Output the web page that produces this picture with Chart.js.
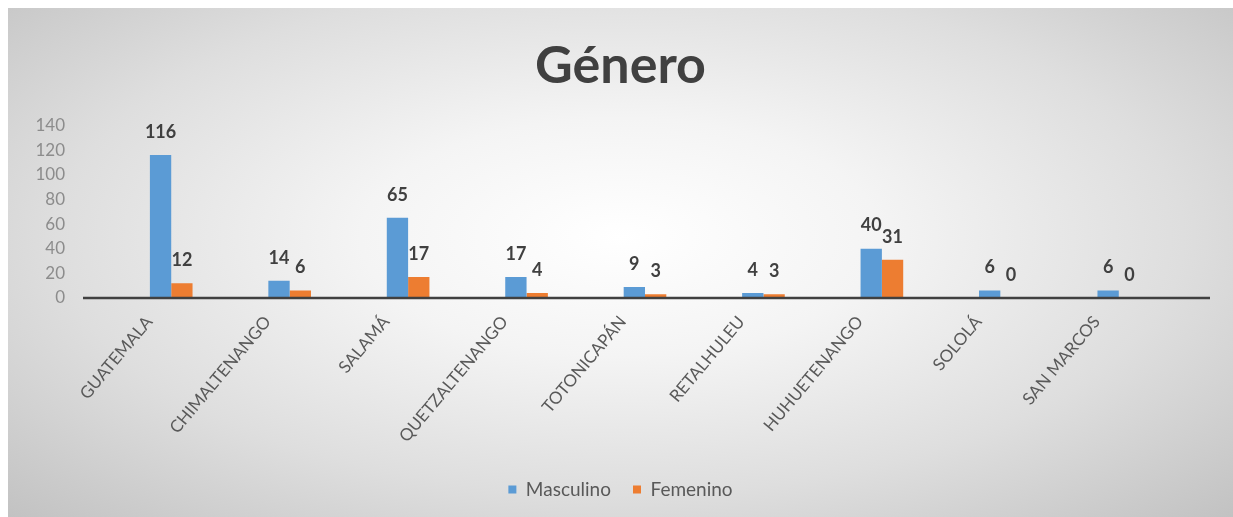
<!DOCTYPE html>
<html>
<head>
<meta charset="utf-8">
<script src="https://cdn.jsdelivr.net/npm/chart.js@4/dist/chart.umd.min.js"></script>
<style>
  html, body { margin: 0; padding: 0; background: #fff; }
  #box {
    position: absolute; left: 8px; top: 8px; width: 1225px; height: 509px;
    background: radial-gradient(ellipse at 50% 45%, #ffffff 0%, #f4f4f4 30%, #dedede 65%, #c2c2c2 100%);
  }
</style>
</head>
<body>
<div id="box"><canvas id="generoChart"></canvas></div>
<script>
const departamentos = ["GUATEMALA", "CHIMALTENANGO", "SALAMÁ", "QUETZALTENANGO", "TOTONICAPÁN", "RETALHULEU", "HUHUETENANGO", "SOLOLÁ", "SAN MARCOS"];
const masculino = [116, 14, 65, 17, 9, 4, 40, 6, 6];
const femenino = [12, 6, 17, 4, 3, 3, 31, 0, 0];

const FONT = "Lato, 'Open Sans', sans-serif";

// etiquetas de valor encima de cada barra
const valueLabels = {
  id: "valueLabels",
  afterDatasetsDraw(chart) {
    const ctx = chart.ctx;
    ctx.save();
    ctx.font = "bold 18px " + FONT;
    ctx.fillStyle = "#404040";
    ctx.textAlign = "center";
    ctx.textBaseline = "middle";
    chart.data.datasets.forEach((ds, i) => {
      chart.getDatasetMeta(i).data.forEach((bar, j) => {
        ctx.fillText(ds.data[j], bar.x, bar.y - 23);
      });
    });
    ctx.restore();
  }
};

// línea del eje horizontal, un poco más larga que el área
const baseLine = {
  id: "baseLine",
  afterDatasetsDraw(chart) {
    const ctx = chart.ctx;
    const a = chart.chartArea;
    const y0 = chart.scales.y.getPixelForValue(0);
    ctx.save();
    ctx.strokeStyle = "#404040";
    ctx.lineWidth = 2.5;
    ctx.beginPath();
    ctx.moveTo(a.left - 29, y0);
    ctx.lineTo(a.right + 32, y0);
    ctx.stroke();
    ctx.restore();
  }
};

new Chart(document.getElementById("generoChart"), {
  type: "bar",
  data: {
    labels: departamentos,
    datasets: [
      { label: "Masculino", data: masculino, backgroundColor: "#5b9bd5" },
      { label: "Femenino", data: femenino, backgroundColor: "#ed7d31" }
    ]
  },
  options: {
    responsive: true,
    maintainAspectRatio: false,
    animation: false,
    categoryPercentage: 0.36,
    barPercentage: 1.0,
    layout: { padding: { left: 0, right: 0, top: 0, bottom: 8 } },
    plugins: {
      title: {
        display: true,
        text: "Género",
        color: "#404040",
        font: { family: FONT, size: 52, weight: "bold" },
        padding: { top: 27, bottom: 28 }
      },
      legend: {
        position: "bottom",
        labels: {
          color: "#595959",
          font: { family: FONT, size: 19 },
          boxWidth: 8,
          boxHeight: 8,
          padding: 22
        }
      },
      tooltip: { enabled: false }
    },
    scales: {
      x: {
        grid: { display: false, drawTicks: false },
        border: { display: false },
        ticks: {
          color: "#595959",
          font: { family: FONT, size: 17 },
          minRotation: 50,
          maxRotation: 50,
          padding: 14,
          labelOffset: -22
        },
        afterFit(scale) { scale.height = 160; }
      },
      y: {
        min: 0,
        max: 140,
        grid: { display: false, drawTicks: false },
        border: { display: false },
        ticks: {
          stepSize: 20,
          autoSkip: false,
          color: "#8c8c8c",
          font: { family: FONT, size: 17 },
          padding: 47
        },
        afterFit(scale) { scale.width = 104; }
      },
      yR: {
        position: "right",
        grid: { display: false, drawTicks: false },
        border: { display: false },
        ticks: { display: false },
        afterFit(scale) { scale.width = 55; }
      }
    }
  },
  plugins: [valueLabels, baseLine]
});
</script>
</body>
</html>
